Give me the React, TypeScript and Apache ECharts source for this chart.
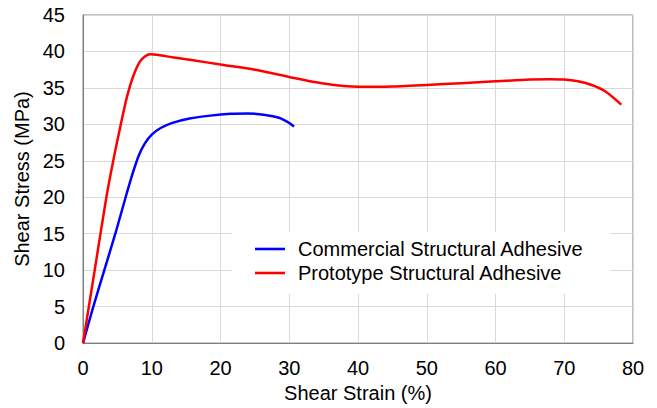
import React, { useEffect, useRef } from "react";
import * as echarts from "echarts";

const xTicks = [0, 10, 20, 30, 40, 50, 60, 70, 80];
const yTicks = [0, 5, 10, 15, 20, 25, 30, 35, 40, 45];

const commercialStrain = [0, 1.5, 3.1, 4.7, 6.2, 7.2, 8.1, 9.0, 10.0, 11.3, 13, 15.5, 18.5, 21.5, 24, 26.5, 28.5, 29.8, 30.7];
const commercialStress = [0, 5.0, 10.0, 15.0, 20.0, 23.2, 25.7, 27.4, 28.6, 29.5, 30.2, 30.8, 31.2, 31.45, 31.5, 31.3, 30.9, 30.3, 29.7];

const prototypeStrain = [0, 1.7, 3.4, 4.5, 5.5, 6.4, 7.3, 8.2, 9.0, 9.8, 11, 13, 16, 20, 25, 30, 35, 40, 45, 50, 55, 60, 65, 68, 70, 72, 74, 76, 78.3];
const prototypeStress = [0, 10.0, 20.0, 25.5, 30.0, 33.8, 36.6, 38.5, 39.3, 39.6, 39.5, 39.2, 38.8, 38.2, 37.5, 36.5, 35.6, 35.15, 35.2, 35.4, 35.65, 35.9, 36.15, 36.2, 36.15, 35.9, 35.4, 34.5, 32.7];

const seriesNames = ["Commercial Structural Adhesive", "Prototype Structural Adhesive"];

function pairs(xs: number[], ys: number[]) {
  return xs.map((x, i) => [x, ys[i]]);
}

export default function App() {
  const ref = useRef<HTMLDivElement>(null);
  useEffect(() => {
    if (!ref.current) return;
    const chart = echarts.init(ref.current, undefined, { renderer: "svg" });
    const font = "Liberation Sans, Arial, sans-serif";
    chart.setOption({
      animation: false,
      backgroundColor: "#fff",
      grid: {
        left: 83,
        right: 24,
        top: 15,
        bottom: 62,
        show: true,
        borderColor: "#7f7f7f",
        borderWidth: 1,
      },
      legend: {
        orient: "vertical",
        left: 232,
        top: 232,
        backgroundColor: "#fff",
        padding: [7, 26, 11, 23],
        itemGap: 4,
        itemWidth: 30,
        itemHeight: 20,
        icon: "path://M0,8.7 L30,8.7 L30,11.3 L0,11.3 Z",
        textStyle: { fontFamily: font, fontSize: 20, color: "#000", padding: [0, 0, 0, 8] },
        data: seriesNames,
      },
      xAxis: {
        type: "value",
        min: 0,
        max: 80,
        interval: 10,
        name: "Shear Strain (%)",
        nameLocation: "middle",
        nameGap: 39,
        nameTextStyle: { fontFamily: font, fontSize: 20, color: "#000", verticalAlign: "top" },
        axisLine: { show: true, lineStyle: { color: "#7f7f7f", width: 1 } },
        axisTick: { show: false },
        axisLabel: { fontFamily: font, fontSize: 20, color: "#000", margin: 15, formatter: (v: number) => (xTicks.includes(v) ? String(v) : "") },
        splitLine: { show: true, lineStyle: { color: "#d9d9d9", width: 1 } },
      },
      yAxis: {
        type: "value",
        min: 0,
        max: 45,
        interval: 5,
        name: "Shear Stress (MPa)",
        nameLocation: "middle",
        nameGap: 50,
        nameTextStyle: { fontFamily: font, fontSize: 20, color: "#000" },
        axisLine: { show: true, lineStyle: { color: "#7f7f7f", width: 1 } },
        axisTick: { show: false },
        axisLabel: { fontFamily: font, fontSize: 20, color: "#000", margin: 18, formatter: (v: number) => (yTicks.includes(v) ? String(v) : "") },
        splitLine: { show: true, lineStyle: { color: "#d9d9d9", width: 1 } },
      },
      series: [
        {
          name: seriesNames[0],
          type: "line",
          data: pairs(commercialStrain, commercialStress),
          smooth: 0.25,
          showSymbol: false,
          symbol: "none",
          color: "#0000ff",
          lineStyle: { color: "#0000ff", width: 2.5 },
          z: 3,
        },
        {
          name: seriesNames[1],
          type: "line",
          data: pairs(prototypeStrain, prototypeStress),
          smooth: 0.25,
          showSymbol: false,
          symbol: "none",
          color: "#ff0000",
          lineStyle: { color: "#ff0000", width: 2.5 },
          z: 3,
        },
      ],
    });
    return () => chart.dispose();
  }, []);
  return <div ref={ref} style={{ width: 657, height: 408, position: "fixed", left: 0, top: 0 }} />;
}
